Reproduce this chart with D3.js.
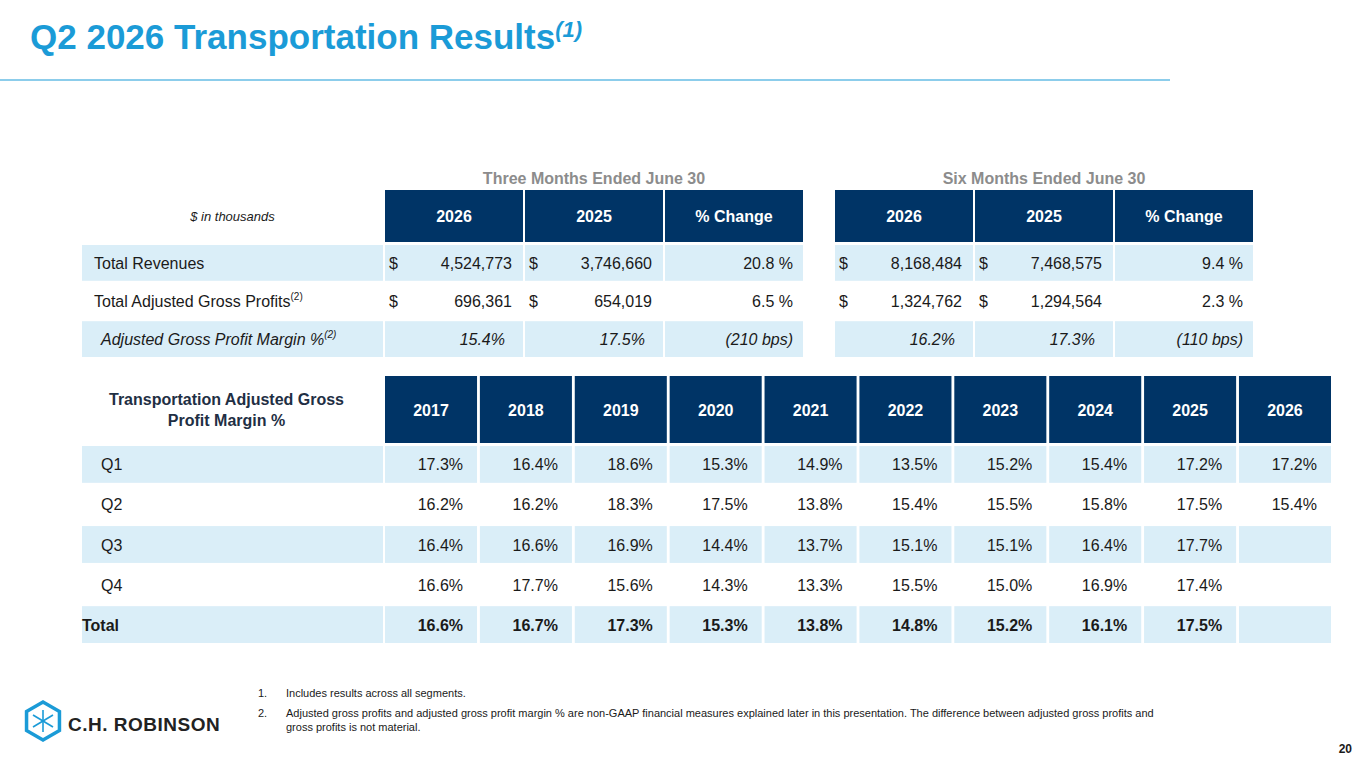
<!DOCTYPE html>
<html><head><meta charset="utf-8">
<script src="https://cdn.jsdelivr.net/npm/d3@7"></script>
<style>body{margin:0;background:#fff}text{font-family:"Liberation Sans",Arial,sans-serif}</style>
</head><body><div id="chart"></div>
<script>
// data
const groupTitles = ["Three Months Ended June 30", "Six Months Ended June 30"];
const topHeaders = ["2026", "2025", "% Change"];
const topRows = ["Total Revenues", "Total Adjusted Gross Profits", "Adjusted Gross Profit Margin %"];
const threeMonths = [["4,524,773", "3,746,660", "20.8 %"], ["696,361", "654,019", "6.5 %"], ["15.4%", "17.5%", "(210 bps)"]];
const sixMonths = [["8,168,484", "7,468,575", "9.4 %"], ["1,324,762", "1,294,564", "2.3 %"], ["16.2%", "17.3%", "(110 bps)"]];
const years = ["2017","2018","2019","2020","2021","2022","2023","2024","2025","2026"];
const quarters = ["Q1","Q2","Q3","Q4","Total"];
const margins = [
  ["17.3%","16.4%","18.6%","15.3%","14.9%","13.5%","15.2%","15.4%","17.2%","17.2%"],
  ["16.2%","16.2%","18.3%","17.5%","13.8%","15.4%","15.5%","15.8%","17.5%","15.4%"],
  ["16.4%","16.6%","16.9%","14.4%","13.7%","15.1%","15.1%","16.4%","17.7%",""],
  ["16.6%","17.7%","15.6%","14.3%","13.3%","15.5%","15.0%","16.9%","17.4%",""],
  ["16.6%","16.7%","17.3%","15.3%","13.8%","14.8%","15.2%","16.1%","17.5%",""]
];
const footnotes = [
  ["1.", "Includes results across all segments."],
  ["2.", "Adjusted gross profits and adjusted gross profit margin % are non-GAAP financial measures explained later in this presentation. The difference between adjusted gross profits and", "gross profits is not material."]
];

const W = 1365, H = 768;
const NAVY = "#003466", LIGHT = "#daeef8", BLUE = "#1b9bd7", INK = "#1a1a1a";
const svg = d3.select("#chart").append("svg").attr("width", W).attr("height", H);

// title
const title = svg.append("text").attr("x", 30).attr("y", 49).attr("fill", BLUE)
  .attr("font-size", 35).attr("font-weight", "bold");
title.append("tspan").text("Q2 2026 Transportation Results");
title.append("tspan").attr("font-size", 22).attr("font-style", "italic").attr("dy", -12).text("(1)");
svg.append("line").attr("x1", 0).attr("x2", 1170).attr("y1", 80).attr("y2", 80)
  .attr("stroke", BLUE).attr("stroke-width", 1.2);

const labelX0 = 82, labelX1 = 383;

// top table
const topCols = d3.scaleBand().domain(d3.range(7)).range([385, 1258]).paddingInner(0.02);
const colX = i => i < 3 ? 385 + i * 140 : 835 + (i - 3) * 140;
const colW = 138;
const topY = d3.scaleBand().domain(d3.range(3)).range([245, 357]).paddingInner(0.06);
const hdrY = 190, hdrH = 52;

groupTitles.forEach((t, g) => {
  svg.append("text").attr("x", colX(g * 3) + (3 * 140 - 2) / 2).attr("y", 184)
    .attr("text-anchor", "middle").attr("fill", "#8c8c8c").attr("font-size", 16)
    .attr("font-weight", "bold").text(t);
});
svg.append("text").attr("x", (labelX0 + labelX1) / 2).attr("y", hdrY + hdrH / 2 + 5)
  .attr("text-anchor", "middle").attr("font-size", 13).attr("font-style", "italic")
  .attr("fill", INK).text("$ in thousands");

for (let i = 0; i < 6; i++) {
  svg.append("rect").attr("x", colX(i)).attr("y", hdrY).attr("width", colW).attr("height", hdrH).attr("fill", NAVY);
  svg.append("text").attr("x", colX(i) + colW / 2).attr("y", hdrY + hdrH / 2 + 6)
    .attr("text-anchor", "middle").attr("fill", "#fff").attr("font-size", 16)
    .attr("font-weight", "bold").text(topHeaders[i % 3]);
}

topRows.forEach((r, ri) => {
  const y = topY(ri), h = topY.bandwidth();
  const fill = ri === 1 ? "#fff" : LIGHT;
  const italic = ri === 2;
  svg.append("rect").attr("x", labelX0).attr("y", y).attr("width", labelX1 - labelX0).attr("height", h).attr("fill", fill);
  const lt = svg.append("text").attr("x", italic ? 101 : 94).attr("y", y + h / 2 + 6)
    .attr("font-size", 16).attr("fill", INK).attr("font-style", italic ? "italic" : null);
  lt.append("tspan").text(r);
  if (ri > 0) lt.append("tspan").attr("font-size", 10).attr("dy", -7).text("(2)");
  const vals = threeMonths[ri].concat(sixMonths[ri]);
  vals.forEach((v, ci) => {
    const x = colX(ci);
    svg.append("rect").attr("x", x).attr("y", y).attr("width", colW).attr("height", h).attr("fill", fill);
    const isPct = ci % 3 === 2;
    if (!isPct && !italic) {
      svg.append("text").attr("x", x + 4).attr("y", y + h / 2 + 6).attr("font-size", 16).attr("fill", INK).text("$");
    }
    svg.append("text").attr("x", x + colW - (isPct ? 10 : (italic ? 18 : 11))).attr("y", y + h / 2 + 6)
      .attr("text-anchor", "end").attr("font-size", 16).attr("fill", INK)
      .attr("font-style", italic ? "italic" : null).text(v);
  });
});

// bottom table
const yc = d3.scaleBand().domain(years).range([385, 1331]).paddingInner(0.03);
const qy = d3.scaleBand().domain(quarters).range([446, 643]).paddingInner(0.08);
const bh0 = 376, bh1 = 443;
const bl = svg.append("text").attr("text-anchor", "middle").attr("font-size", 16)
  .attr("font-weight", "bold").attr("fill", "#1f2f44");
bl.append("tspan").attr("x", (labelX0 + labelX1) / 2 - 6).attr("y", 405).text("Transportation Adjusted Gross");
bl.append("tspan").attr("x", (labelX0 + labelX1) / 2 - 6).attr("y", 426).text("Profit Margin %");
years.forEach(yr => {
  svg.append("rect").attr("x", yc(yr)).attr("y", bh0).attr("width", yc.bandwidth()).attr("height", bh1 - bh0).attr("fill", NAVY);
  svg.append("text").attr("x", yc(yr) + yc.bandwidth() / 2).attr("y", (bh0 + bh1) / 2 + 6)
    .attr("text-anchor", "middle").attr("fill", "#fff").attr("font-size", 16).attr("font-weight", "bold").text(yr);
});
quarters.forEach((q, qi) => {
  const y = qy(q), h = qy.bandwidth();
  const fill = qi % 2 === 0 ? LIGHT : "#fff";
  const bold = q === "Total" ? "bold" : null;
  svg.append("rect").attr("x", labelX0).attr("y", y).attr("width", labelX1 - labelX0).attr("height", h).attr("fill", fill);
  svg.append("text").attr("x", q === "Total" ? 82 : 101).attr("y", y + h / 2 + 6).attr("font-size", 16)
    .attr("font-weight", bold).attr("fill", INK).text(q);
  years.forEach((yr, ci) => {
    svg.append("rect").attr("x", yc(yr)).attr("y", y).attr("width", yc.bandwidth()).attr("height", h).attr("fill", fill);
    svg.append("text").attr("x", yc(yr) + yc.bandwidth() - 14).attr("y", y + h / 2 + 6)
      .attr("text-anchor", "end").attr("font-size", 16).attr("font-weight", bold).attr("fill", INK).text(margins[qi][ci]);
  });
});

// footnotes
const fy = [697, 717];
footnotes.forEach((f, i) => {
  svg.append("text").attr("x", 258).attr("y", fy[i]).attr("font-size", 11).attr("fill", INK).text(f[0]);
  f.slice(1).forEach((line, li) => {
    svg.append("text").attr("x", 286).attr("y", fy[i] + li * 14).attr("font-size", 11).attr("fill", INK).text(line);
  });
});
svg.append("text").attr("x", 1352).attr("y", 753).attr("text-anchor", "end").attr("font-size", 12)
  .attr("font-weight", "bold").attr("fill", INK).text("20");

// logo
const lg = svg.append("g").attr("transform", "translate(43,721)");
const hex = d3.range(6).map(k => { const a = Math.PI / 3 * k + Math.PI / 6; return [19 * Math.cos(a), 19 * Math.sin(a)]; });
lg.append("polygon").attr("points", hex.map(p => p.join(",")).join(" ")).attr("fill", "none").attr("stroke", BLUE).attr("stroke-width", 3.5);
[[0, -11], [0, 11], [-10, -6], [10, -6], [-10, 6], [10, 6]].forEach(p => {
  lg.append("line").attr("x1", 0).attr("y1", 0).attr("x2", p[0]).attr("y2", p[1]).attr("stroke", BLUE).attr("stroke-width", 1.6);
});
svg.append("text").attr("x", 68).attr("y", 731).attr("font-family", "'DejaVu Sans'").attr("font-size", 19)
  .attr("font-weight", "bold").attr("letter-spacing", 0.5).attr("fill", "#222").text("C.H. ROBINSON");
</script></body></html>
